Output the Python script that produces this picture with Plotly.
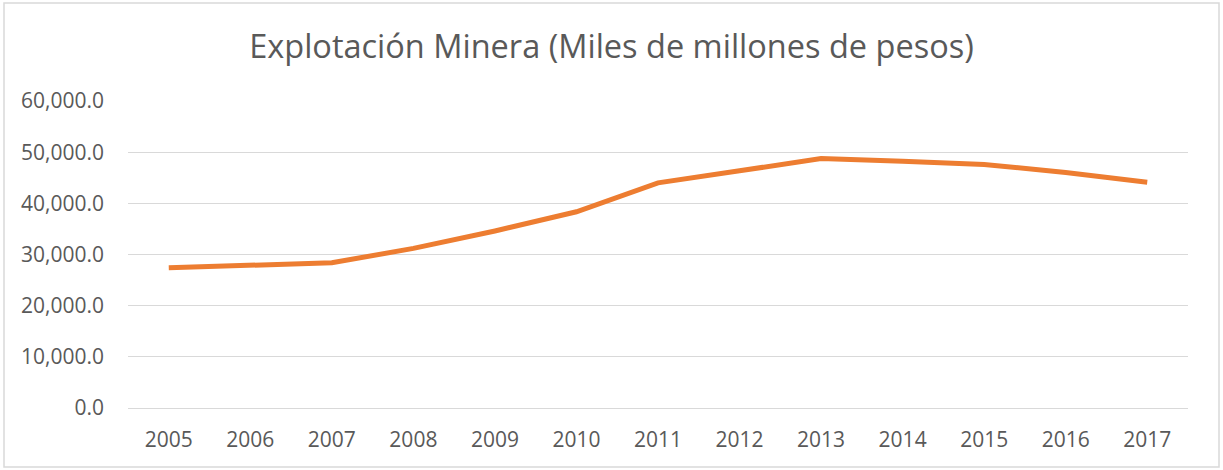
import plotly.graph_objects as go

years = ["2005", "2006", "2007", "2008", "2009", "2010", "2011", "2012", "2013", "2014", "2015", "2016", "2017"]
values = [27400, 27900, 28380, 31200, 34600, 38350, 44000, 46350, 48770, 48240, 47600, 46040, 44140]
y_ticks = [0, 10000, 20000, 30000, 40000, 50000, 60000]
title_text = "Explotación Minera (Miles de millones de pesos)"

W, H = 1223, 470
L, R, T, B = 128, 35, 101, 62
pw, ph = W - L - R, H - T - B

fig = go.Figure()
fig.add_trace(go.Scatter(
    x=years, y=values, mode="lines",
    line=dict(color="#ED7D31", width=5),
    hoverinfo="x+y",
))

# outer border of chart area (paper coords)
bx0 = (4 - L) / pw
bx1 = (1219 - L) / pw
by0 = (ph + T - 467) / ph
by1 = (ph + T - 3) / ph
fig.add_shape(type="rect", xref="paper", yref="paper",
              x0=bx0, x1=bx1, y0=by0, y1=by1,
              line=dict(color="#D9D9D9", width=1.5), fillcolor="rgba(0,0,0,0)", layer="below")

fig.update_layout(
    width=W, height=H,
    margin=dict(l=L, r=R, t=T, b=B),
    paper_bgcolor="white", plot_bgcolor="white",
    showlegend=False,
    font=dict(family="Open Sans", color="#595959"),
    title=dict(text=title_text, x=0.5, xref="container", xanchor="center",
               y=1 - 47 / H, yanchor="middle",
               font=dict(size=32.5, color="#595959", family="Open Sans")),
    xaxis=dict(type="category", range=[-0.5, 12.5], showgrid=False, zeroline=False,
               showline=False, ticks="", tickfont=dict(size=21, color="#595959"),
               ticklabelstandoff=17, fixedrange=True),
    yaxis=dict(range=[0, 60000], tickvals=y_ticks, tickformat=",.1f",
               showgrid=True, gridcolor="#D9D9D9", gridwidth=1,
               zeroline=True, zerolinecolor="#D9D9D9", zerolinewidth=1,
               showline=False, ticks="", tickfont=dict(size=21, color="#595959"),
               ticklabelstandoff=23, fixedrange=True),
)

fig.write_html("out.html", config={"displayModeBar": False},
               post_script="document.body.style.margin='0px';document.body.style.overflow='hidden';")
